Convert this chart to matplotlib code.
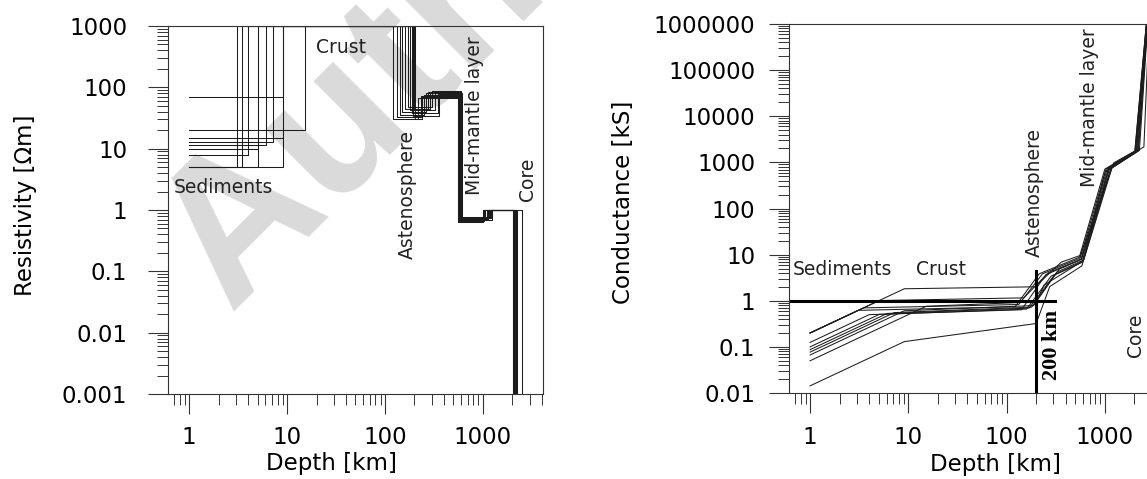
import numpy as np
import matplotlib
matplotlib.use("Agg")
import matplotlib.pyplot as plt
from matplotlib.ticker import FixedLocator, FuncFormatter, LogLocator, NullFormatter

plt.rcParams['font.family'] = ['DejaVu Sans']

# layered resistivity models (one entry per model)
sed_rho = [5, 5, 8, 5, 10, 11.5, 13, 15, 5, 20, 70]
sed_depth = [3.1, 3.5, 4.0, 5.05, 5.05, 6.1, 7.2, 9.1, 9.1, 15.2, 9.1]
lith_depth = [122, 133, 142, 150, 160, 170, 180, 188, 195, 202, 200]
ast_rho = [30, 33, 36, 40, 45, 47, 42, 38, 34, 31, 44]
ast_depth = [215, 232, 250, 265, 285, 305, 325, 345, 360, 240, 275]
mid_rho = [68, 72, 76, 80, 85, 87, 82, 78, 74, 70, 84]
mid_depth = [550, 560, 570, 580, 590, 600, 610, 575, 565, 595, 585]
low_rho = [0.64, 0.66, 0.68, 0.70, 0.72, 0.75, 0.77, 0.73, 0.69, 0.67, 0.71]
low_depth = [1000, 1030, 1060, 1090, 1120, 1150, 1180, 1200, 1230, 1010, 1100]
core_depth = [2020, 2050, 2080, 2110, 2150, 2200, 2250, 2500, 2030, 2070, 2180]
crust_rho = 1000
lower_rho = 1
core_rho = 1e-4
start_depth = 1
end_depth = 2900

# reference markers on the conductance plot
ref_depth = 200
ref_conductance = 1
ref_hline_end = 310
ref_vline_top = 4.5

res_ticks = [0.001, 0.01, 0.1, 1, 10, 100, 1000]
cond_ticks = [0.01, 0.1, 1, 10, 100, 1000, 10000, 100000, 1000000]
depth_ticks = [1, 10, 100, 1000]

LINE = '#1c1c1c'
AXC = '#333333'


def fmt(v, pos=None):
    return f'{v:.0f}' if v >= 1 else f'{v:g}'


def setup_axis(ax, yticks, ylim, ypad):
    ax.set_xscale('log')
    ax.set_yscale('log')
    ax.set_xlim(0.61, 4100)
    ax.set_ylim(ylim)
    ax.set_facecolor('none')
    ax.xaxis.set_major_locator(FixedLocator(depth_ticks))
    ax.yaxis.set_major_locator(FixedLocator(yticks))
    ax.xaxis.set_major_formatter(FuncFormatter(fmt))
    ax.yaxis.set_major_formatter(FuncFormatter(fmt))
    ax.xaxis.set_minor_locator(LogLocator(base=10, subs=np.arange(2, 10), numticks=50))
    ax.yaxis.set_minor_locator(LogLocator(base=10, subs=np.arange(2, 10), numticks=50))
    ax.xaxis.set_minor_formatter(NullFormatter())
    ax.yaxis.set_minor_formatter(NullFormatter())
    ax.tick_params(which='major', length=14.4, width=0.8, color=AXC, labelsize=16.5)
    ax.tick_params(which='minor', length=7.9, width=0.7, color=AXC)
    ax.tick_params(axis='y', which='major', pad=ypad)
    ax.tick_params(axis='x', which='major', pad=9)
    for s in ax.spines.values():
        s.set_linewidth(0.8)
        s.set_color(AXC)


fig = plt.figure(figsize=(11.47, 4.79), dpi=100)

# watermark
fig.text(229 / 1147, 1 - 312 / 479, 'Author', rotation=45, rotation_mode='anchor',
         ha='left', va='baseline', fontsize=144, color='#dadada',
         family='Liberation Sans', fontweight='bold', zorder=-1)

ax1 = fig.add_axes([168 / 1147, 1 - 394 / 479, 375 / 1147, 368 / 479])
ax2 = fig.add_axes([789 / 1147, 1 - 393 / 479, 376 / 1147, 369 / 479])

for i in range(len(sed_rho)):
    depths = [start_depth, sed_depth[i], lith_depth[i], ast_depth[i], mid_depth[i],
              low_depth[i], core_depth[i], end_depth]
    rhos = [sed_rho[i], crust_rho, ast_rho[i], mid_rho[i], low_rho[i], lower_rho,
            core_rho, core_rho]
    ax1.plot(depths, rhos, drawstyle='steps-post', color=LINE, lw=0.75)

    # cumulative conductance (kS) = sum of thickness[km] / resistivity
    layer_rho = [sed_rho[i]] + rhos[:-1]
    tops = [0] + depths[:-1]
    cond = np.cumsum([(d - t) / r for d, t, r in zip(depths, tops, layer_rho)])
    ax2.plot(depths, cond, color=LINE, lw=0.75)

ax2.plot([0.61, ref_hline_end], [ref_conductance, ref_conductance], color='black', lw=2.2)
ax2.plot([ref_depth, ref_depth], [0.01, ref_vline_top], color='black', lw=2.2)

setup_axis(ax1, res_ticks, (0.001, 1000), 15)
setup_axis(ax2, cond_ticks, (0.01, 1000000), 10)

ax1.set_ylabel('Resistivity [\u03a9m]', fontsize=16.5, va='center')
ax1.yaxis.set_label_coords(-0.381, 0.514)
ax1.set_xlabel('Depth [km]', fontsize=16.5, va='center')
ax1.xaxis.set_label_coords(0.437, -0.19)

ax2.set_ylabel('Conductance [kS]', fontsize=16.5, va='center')
ax2.yaxis.set_label_coords(-0.441, 0.518)
ax2.set_xlabel('Depth [km]', fontsize=16.5, va='center')
ax2.xaxis.set_label_coords(0.548, -0.193)

ann = dict(fontsize=13.5, color='#222222')
ax1.text(0.70, 2.37, 'Sediments', ha='left', va='center', **ann)
ax1.text(19.8, 452, 'Crust', ha='left', va='center', **ann)
ax1.text(168, 1.76, 'Astenosphere', rotation=90, ha='center', va='center', **ann)
ax1.text(829, 34, 'Mid-mantle layer', rotation=90, ha='center', va='center', **ann)
ax1.text(2878, 3.2, 'Core', rotation=90, ha='center', va='center', **ann)

ax2.text(0.67, 4.7, 'Sediments', ha='left', va='center', **ann)
ax2.text(12, 4.7, 'Crust', ha='left', va='center', **ann)
ax2.text(194, 220, 'Astenosphere', rotation=90, ha='center', va='center', **ann)
ax2.text(705, 15400, 'Mid-mantle layer', rotation=90, ha='center', va='center', **ann)
ax2.text(2050, 0.18, 'Core', rotation=90, ha='center', va='center', **ann)
ax2.text(290, 0.11, '200 km', rotation=90, ha='center', va='center', fontsize=16,
         family='Liberation Serif', fontweight='bold')

fig.savefig('out.png', dpi=100)
